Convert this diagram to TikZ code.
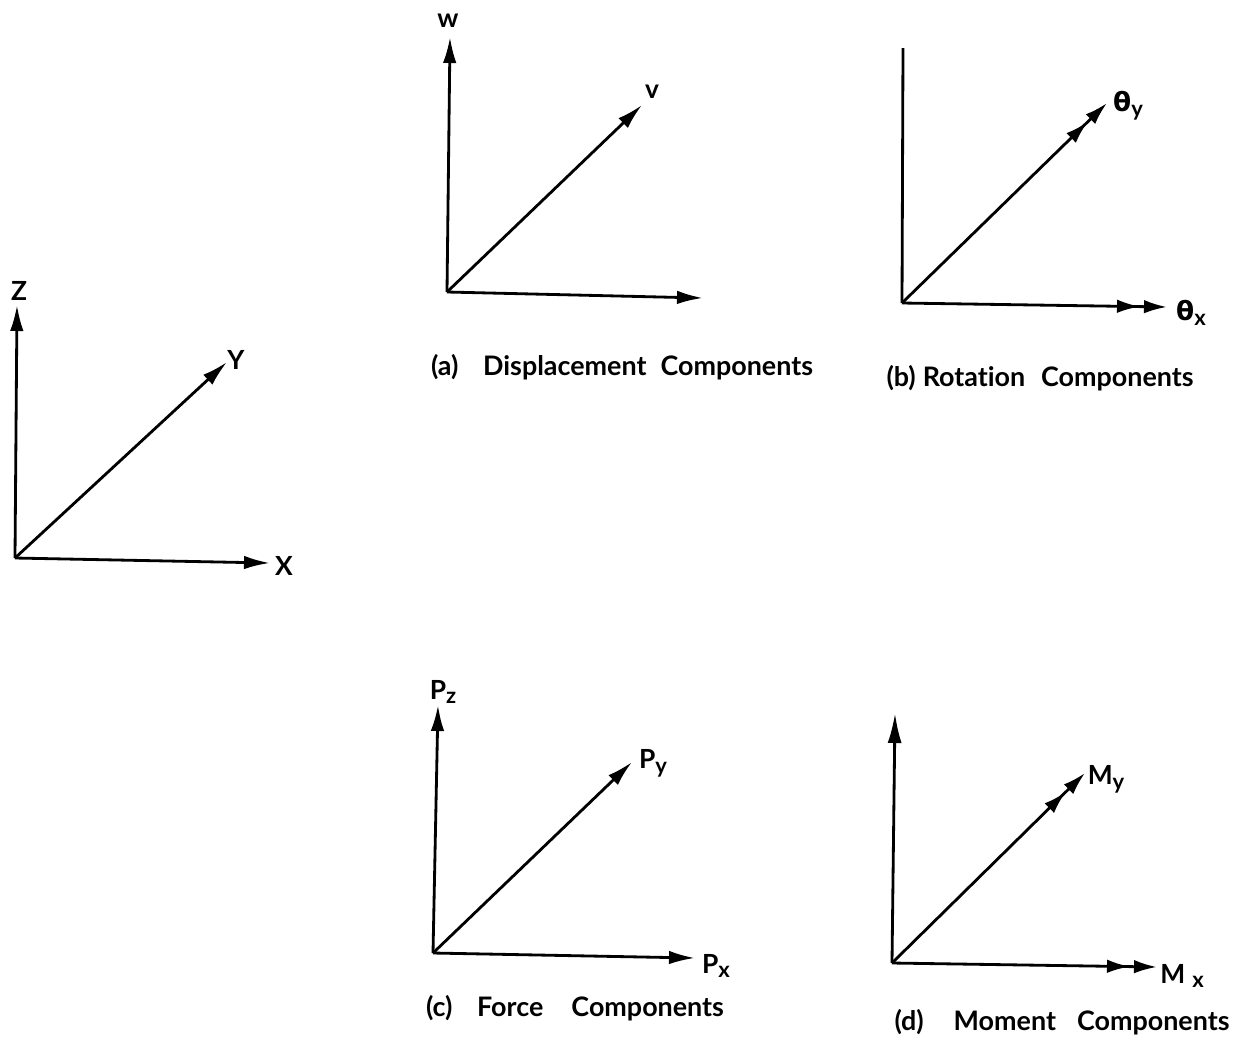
\documentclass[tikz,border=0pt]{standalone}
\usepackage{fontspec}
\setmainfont{Lato}[Ligatures=NoCommon]
\newfontfamily\grkfont{DejaVu Sans}
\usetikzlibrary{arrows.meta}
\newcommand{\thsym}{{\grkfont\bfseries θ}}
\newcommand{\lowsub}[1]{\raisebox{-0.35ex}{\fontsize{12.5}{13}\selectfont #1}}

\begin{document}
\begin{tikzpicture}[
  x=0.02cm,y=-0.02cm,
  axis/.style={line width=1.6pt},
  arr/.style={axis,-{Latex[length=5.2mm,width=2.7mm]}},
  longarr/.style={axis,-{Latex[length=6mm,width=2.8mm]}},
  dbl/.style={axis,-{Latex[length=4.6mm,width=2.7mm,sep=0.8mm]Latex[length=4.6mm,width=2.7mm]}},
  lbl/.style={inner sep=0pt,font=\fontsize{15}{17}\selectfont\bfseries},
  captxt/.style={inner sep=0pt,font=\fontsize{15.3}{17}\selectfont\bfseries}
]
  \useasboundingbox (0,0) rectangle (1237,1039);

  % reference axes
  \coordinate (o) at (15,558);
  \coordinate (zt) at (17,305);
  \coordinate (xt) at (270,563);
  \coordinate (yt) at (227,362);
  \draw[arr] (o) -- (zt);
  \draw[arr] (o) -- (xt);
  \draw[arr] (o) -- (yt);
  \node[lbl] (zlbl) at (19,291) {Z};
  \node[lbl] (xlbl) at (284,566) {X};
  \node[lbl] (ylbl) at (236,360) {Y};

  % (a) displacements
  \coordinate (oa) at (447,292);
  \coordinate (wt) at (450,37);
  \coordinate (vt) at (642,105);
  \coordinate (ut) at (703,298);
  \draw[arr] (oa) -- (wt);
  \draw[arr] (oa) -- (vt);
  \draw[arr] (oa) -- (ut);
  \node[lbl] (wlbl) at (448,21) {w};
  \node[lbl] (vlbl) at (652,92) {v};
  \node[captxt] (capa) at (622,367)
    {(a)\hspace{14pt}Displacement\hspace{8pt}Components};

  % (b) rotations
  \coordinate (ob) at (902,303);
  \coordinate (bt) at (903,48);
  \coordinate (tyt) at (1107,103);
  \coordinate (txt) at (1167,307);
  \draw[axis] (ob) -- (bt);
  \draw[dbl] (ob) -- (tyt);
  \draw[dbl] (ob) -- (txt);
  \node[lbl] (tylbl) at (1128,106) {\thsym\lowsub{y}};
  \node[lbl] (txlbl) at (1191,313) {\thsym\lowsub{x}};
  \node[captxt] (capb) at (1040,378)
    {(b)\hspace{4pt}Rotation\hspace{9pt}Components};

  % (c) forces
  \coordinate (oc) at (433,953);
  \coordinate (pzt) at (438,705);
  \coordinate (pyt) at (632,762);
  \coordinate (pxt) at (695,958);
  \draw[arr] (oc) -- (pzt);
  \draw[arr] (oc) -- (pyt);
  \draw[arr] (oc) -- (pxt);
  \node[lbl] (pzlbl) at (443,692) {P\lowsub{z}};
  \node[lbl] (pylbl) at (653,763) {P\lowsub{y}};
  \node[lbl] (pxlbl) at (716,966) {P\lowsub{x}};
  \node[captxt] (capc) at (575,1008)
    {(c)\hspace{14pt}Force\hspace{16pt}Components};

  % (d) moments
  \coordinate (od) at (892,963);
  \coordinate (dt) at (895,713);
  \coordinate (myt) at (1085,773);
  \coordinate (mxt) at (1157,967);
  \draw[longarr] (od) -- (dt);
  \draw[dbl] (od) -- (myt);
  \draw[dbl] (od) -- (mxt);
  \node[lbl] (mylbl) at (1106,779) {M\lowsub{y}};
  \node[lbl] (mxlbl) at (1182,976) {M\hspace{4pt}\lowsub{x}};
  \node[captxt] (capd) at (1062,1022)
    {(d)\hspace{17pt}Moment\hspace{12pt}Components};
\end{tikzpicture}
\end{document}
